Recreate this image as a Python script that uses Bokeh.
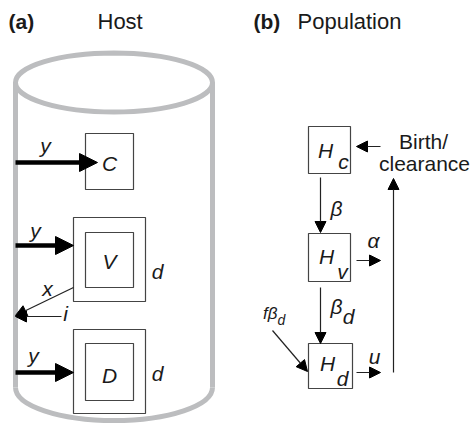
from bokeh.plotting import figure
from bokeh.models import Range1d, Arrow, NormalHead, ColumnDataSource
from bokeh.embed import file_html
from bokeh.resources import INLINE
from bokeh.core.properties import value

W, H = 473, 428
FONT = "Liberation Sans"
GRAY = "#bcbdbf"
INK = "#222222"
BOX = "#444444"
TEXT_DY = -7.5

# ---- panel titles ----
panel_tags = ["(a)", "(b)"]
panel_titles = ["Host", "Population"]
tag_x = [8, 253]
title_x = [97, 297]
title_base = 28

# ---- panel (a): host compartments ----
host_labels = ["C", "V", "D"]
host_cx = [109, 109, 109]
host_cy = [161, 259.5, 371.5]
inner_w = [48, 48, 48]
inner_h = [56, 55, 57]
outer_cx = [109, 109]
outer_cy = [259, 371]
outer_w = [72, 72]
outer_h = [84, 84]
label_base = [170, 268, 382]
d_labels = ["d", "d"]
d_x = [157, 157]
d_base = [278, 380]

# thick infection arrows "y"
y_arrow_y = [162, 245, 372]
y_arrow_x0 = [15, 15, 15]
y_arrow_x1 = [97, 73, 73]
y_lab_x = [45, 35, 33]
y_lab_base = [152, 237, 362]

# thin exit arrows x and i
thin_a_x0 = [73, 61]
thin_a_y0 = [287, 316]
thin_a_x1 = [15, 15]
thin_a_y1 = [315, 316]
thin_a_lab = ["x", "i"]
thin_a_lab_x = [47, 65]
thin_a_lab_base = [295, 320]

# cylinder
cyl_left, cyl_right = 15, 212
cyl_top, cyl_bot = 82, 387
cyl_rx_h = 59
cyl_bottom_depth = 33

# ---- panel (b): population compartments ----
pop_cx = [329, 329, 330]
pop_cy = [149.5, 257, 365.5]
pop_w = [42, 42, 44]
pop_h = [47, 48, 45]
pop_H_x = [325, 326, 327]
pop_H_base = [157, 263, 370]
pop_sub = ["c", "v", "d"]
pop_sub_x = [343, 342, 342]
pop_sub_base = [168, 278, 385]

# thin arrows in (b): into Hc, beta, alpha, beta_d, u, f beta_d, birth/clearance
b_x0 = [380, 320, 356, 320, 356, 272, 393]
b_y0 = [146, 177, 260, 287, 372, 330, 372]
b_x1 = [356, 320, 380, 320, 380, 307, 393]
b_y1 = [146, 232, 260, 343, 372, 371, 178]

rate_text = ["β", "α", "β", "u"]
rate_x = [336, 373, 336, 374]
rate_base = [215, 247, 313, 363]
rate_sub = ["d"]
rate_sub_x = [348]
rate_sub_base = [323]

f_text = ["fβ"]
f_x = [277]
f_base = [320]
f_sub = ["d"]
f_sub_x = [277]
f_sub_base = [327]

birth_text = ["Birth/", "clearance"]
birth_x = [423, 424]
birth_base = [148, 170]

p = figure(width=W, height=H, output_backend="svg", toolbar_location=None,
           x_range=Range1d(0, W), y_range=Range1d(H, 0),
           min_border=0, tools="")
p.axis.visible = False
p.grid.visible = False
p.outline_line_color = None
p.background_fill_color = "white"
p.border_fill_color = "white"

# cylinder
cx = (cyl_left + cyl_right) / 2
rx = (cyl_right - cyl_left) / 2
p.ellipse(x=[cx], y=[cyl_top], width=[cyl_right - cyl_left], height=[cyl_rx_h],
          fill_alpha=0, line_color=GRAY, line_width=5)
p.segment(x0=[cyl_left, cyl_right], y0=[cyl_top, cyl_top],
          x1=[cyl_left, cyl_right], y1=[cyl_bot, cyl_bot],
          line_color=GRAY, line_width=5)
k = 0.5523
yb = cyl_bot + cyl_bottom_depth
p.bezier(x0=[cyl_left, cx], y0=[cyl_bot, yb], x1=[cx, cyl_right], y1=[yb, cyl_bot],
         cx0=[cyl_left, cx + k * rx], cy0=[cyl_bot + k * cyl_bottom_depth, yb],
         cx1=[cx - k * rx, cyl_right], cy1=[yb, cyl_bot + k * cyl_bottom_depth],
         line_color=GRAY, line_width=5)

# boxes
p.rect(x=host_cx, y=host_cy, width=inner_w, height=inner_h,
       fill_alpha=0, line_color=BOX, line_width=1.2)
p.rect(x=outer_cx, y=outer_cy, width=outer_w, height=outer_h,
       fill_alpha=0, line_color=BOX, line_width=1.2)
p.rect(x=pop_cx, y=pop_cy, width=pop_w, height=pop_h,
       fill_alpha=0, line_color=BOX, line_width=1.2)

# thick arrows
thick_src = ColumnDataSource(dict(x0=y_arrow_x0, y0=y_arrow_y, x1=y_arrow_x1, y1=y_arrow_y))
p.add_layout(Arrow(end=NormalHead(size=18, fill_color="black", line_color="black", line_width=1),
                   source=thick_src, x_start="x0", y_start="y0", x_end="x1", y_end="y1",
                   line_color="black", line_width=4.5))

thin_src = ColumnDataSource(dict(x0=thin_a_x0, y0=thin_a_y0, x1=thin_a_x1, y1=thin_a_y1))
p.add_layout(Arrow(end=NormalHead(size=11, fill_color="black", line_color="black", line_width=1),
                   source=thin_src, x_start="x0", y_start="y0", x_end="x1", y_end="y1",
                   line_color=INK, line_width=1.2))

b_src = ColumnDataSource(dict(x0=b_x0, y0=b_y0, x1=b_x1, y1=b_y1))
p.add_layout(Arrow(end=NormalHead(size=11, fill_color="black", line_color="black", line_width=1),
                   source=b_src, x_start="x0", y_start="y0", x_end="x1", y_end="y1",
                   line_color=INK, line_width=1.2))


def txt(xs, ys, labels, size, style="normal", align="center", color="#1a1a1a"):
    p.text(x=xs, y=[v + TEXT_DY for v in ys], text=labels, text_font=value(FONT),
           text_font_size=value(size), text_font_style=style,
           text_align=align, text_baseline="alphabetic", text_color=color)


# titles
txt(tag_x, [title_base] * 2, panel_tags, "21px", style="bold", align="left")
txt(title_x, [title_base] * 2, panel_titles, "22px", align="left")

# panel a labels
txt(host_cx, label_base, host_labels, "21px", style="italic")
txt(d_x, d_base, d_labels, "21px", style="italic")
txt(y_lab_x, y_lab_base, ["y"] * 3, "21px", style="italic")
txt(thin_a_lab_x, thin_a_lab_base, thin_a_lab, "21px", style="italic")

# panel b labels
txt(pop_H_x, pop_H_base, ["H"] * 3, "21px", style="italic")
txt(pop_sub_x, pop_sub_base, pop_sub, "21px", style="italic")
txt(rate_x, rate_base, rate_text, "21px", style="italic")
txt(rate_sub_x, rate_sub_base, rate_sub, "21px", style="italic")
txt(f_x, f_base, f_text, "17px", style="italic", align="right")
txt(f_sub_x, f_sub_base, f_sub, "14px", style="italic", align="left")
txt(birth_x, birth_base, birth_text, "21px")

open("out.html", "w").write(file_html(p, INLINE))
